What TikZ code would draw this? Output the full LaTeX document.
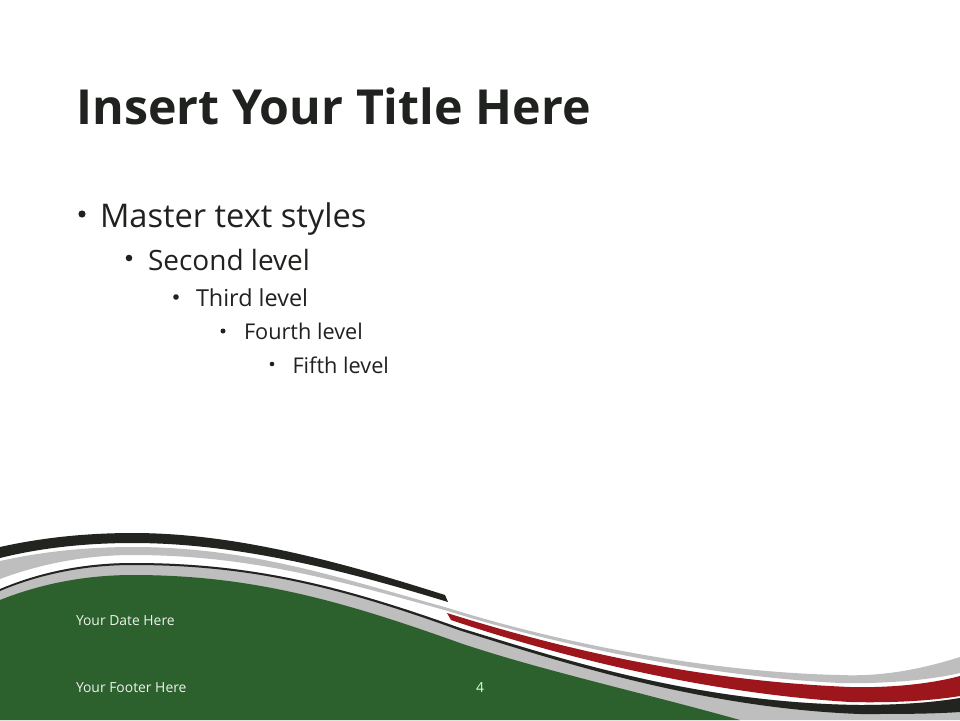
\documentclass[tikz,border=0pt]{standalone}
\usepackage{fontspec}
\setmainfont{Open Sans}
\definecolor{ink}{HTML}{20221F}
\definecolor{leaf}{HTML}{2C602D}
\definecolor{ash}{HTML}{BEBEBE}
\definecolor{wine}{HTML}{9C161B}
\definecolor{coal}{HTML}{22241F}
\tikzset{
  x=1pt,y=-1pt,
  every node/.style={inner sep=0pt,outer sep=0pt,anchor=base west,text=ink},
  title/.style={font=\fontsize{48.3}{48}\selectfont\bfseries},
  lvlA/.style={font=\fontsize{32.6}{32}\selectfont},
  lvlB/.style={font=\fontsize{28}{28}\selectfont},
  lvlC/.style={font=\fontsize{23.4}{24}\selectfont},
  lvlD/.style={font=\fontsize{21.7}{24}\selectfont},
  foot/.style={font=\fontsize{13.9}{14}\selectfont,text=white!92!leaf}
}
\begin{document}
\begin{tikzpicture}
\useasboundingbox (0,0) rectangle (960,720);
\fill[white] (0,0) rectangle (960,720);
% dark upper band
\fill[coal] (0,547) .. controls (40,538) and (85,533) .. (133,533)
  .. controls (240,533) and (350,565) .. (445,595) -- (448,602)
  .. controls (350,572) and (240,543) .. (133,543)
  .. controls (85,543) and (40,548) .. (0,558) -- cycle;
% grey upper band
\fill[ash] (0,561) .. controls (40,552) and (85,547) .. (133,547)
  .. controls (250,547) and (340,578) .. (448,608)
  .. controls (550,640) and (700,672) .. (840,675)
  .. controls (885,677) and (925,668) .. (960,657)
  -- (960,673) .. controls (930,680) and (885,684) .. (840,683)
  .. controls (700,676) and (550,643) .. (448,611)
  .. controls (340,581) and (250,555) .. (133,555)
  .. controls (85,555) and (40,564) .. (0,579) -- cycle;
% grey lower mass
\fill[ash] (0,590) .. controls (40,572) and (85,563) .. (133,563)
  .. controls (250,563) and (340,585) .. (460,628)
  .. controls (550,655) and (690,703) .. (860,705)
  .. controls (895,705) and (930,703) .. (960,698)
  -- (960,720) -- (0,720) -- cycle;
% thin black line swelling to the right
\fill[coal] (0,589) .. controls (40,572) and (85,563) .. (133,563)
  .. controls (250,563) and (340,585) .. (460,628)
  .. controls (550,655) and (690,703) .. (860,705)
  .. controls (895,705) and (930,703) .. (960,698)
  -- (960,712) .. controls (930,714) and (900,714) .. (860,714)
  .. controls (700,708) and (555,660) .. (460,630.5)
  .. controls (340,587) and (250,565) .. (133,565)
  .. controls (85,565) and (40,574) .. (0,591) -- cycle;
% red band
\fill[wine] (447,613) .. controls (540,642) and (680,680) .. (850,687)
  .. controls (890,688) and (930,684) .. (960,676)
  -- (960,696) .. controls (930,701) and (890,703) .. (850,702)
  .. controls (690,692) and (540,650) .. (451,620) -- cycle;
% green ground
\fill[leaf] (0,600) .. controls (40,584) and (85,575) .. (133,575)
  .. controls (250,575) and (340,600) .. (460,643)
  .. controls (540,670) and (640,692) .. (740,720)
  -- (0,720) -- cycle;
\node[title] (t) at (76.5,124) {Insert Your Title Here};
\fill[ink] (82,214) circle (3.6);
\node[lvlA] (a) at (100,227) {Master text styles};
\fill[ink] (129,258) circle (3.3);
\node[lvlB] (b) at (148,270) {Second level};
\fill[ink] (176,297) circle (2.8);
\node[lvlC] (c) at (196,306) {Third level};
\fill[ink] (223,331) circle (2.5);
\node[lvlD] (d) at (244,339.5) {Fourth level};
\fill[ink] (272,364) circle (2.3);
\node[lvlD] (e) at (292.5,373) {Fifth level};
\node[foot] (f1) at (76,625) {Your Date Here};
\node[foot] (f2) at (76,692) {Your Footer Here};
\node[foot,anchor=base] (f3) at (480,692) {4};
\end{tikzpicture}
\end{document}
